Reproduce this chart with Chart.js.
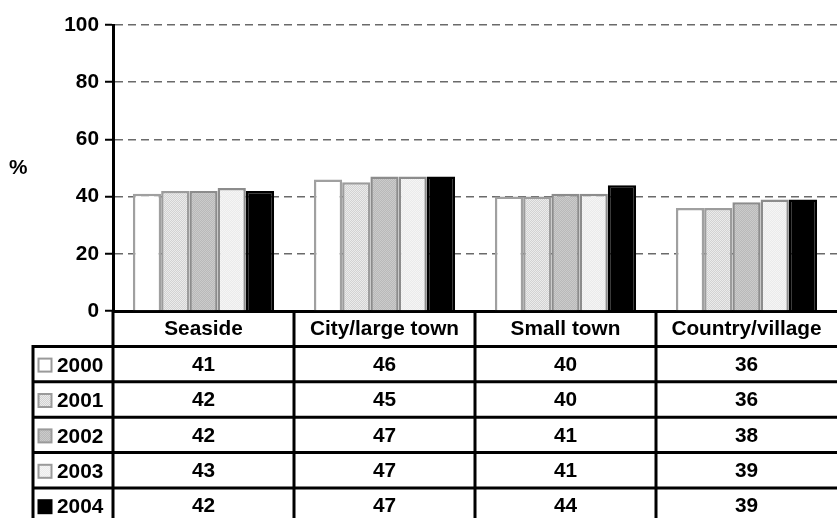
<!DOCTYPE html>
<html>
<head>
<meta charset="utf-8">
<script src="https://cdn.jsdelivr.net/npm/chart.js@4.4.1/dist/chart.umd.min.js"></script>
<style>
  html, body { margin: 0; padding: 0; background: #fff; }
  #wrap { width: 837px; height: 518px; }
</style>
</head>
<body>
<div id="wrap"><canvas id="chart" width="837" height="518"></canvas></div>
<script>
// places and yearly shares (%)
const places = ["Seaside", "City/large town", "Small town", "Country/village"];
const years = ["2000", "2001", "2002", "2003", "2004"];
const y2000 = [41, 46, 40, 36];
const y2001 = [42, 45, 40, 36];
const y2002 = [42, 47, 41, 38];
const y2003 = [43, 47, 41, 39];
const y2004 = [42, 47, 44, 39];
const yTicks = [0, 20, 40, 60, 80, 100];

const FONT = "'Liberation Sans', Arial, sans-serif";
const FONT_SIZE = 20.8;

// fine dither fill like the old office print patterns
function dither(a, b) {
  const c = document.createElement("canvas");
  c.width = 2; c.height = 2;
  const g = c.getContext("2d");
  g.fillStyle = a; g.fillRect(0, 0, 2, 2);
  g.fillStyle = b; g.fillRect(0, 0, 1, 1); g.fillRect(1, 1, 1, 1);
  return g.createPattern(c, "repeat");
}

const fills = ["#ffffff", dither("#d2d2d2", "#ebebeb"), dither("#b9b9b9", "#cbcbcb"), dither("#ebebeb", "#f5f5f5"), "#000000"];
const borders = ["#a0a0a0", "#9c9c9c", "#8c8c8c", "#8c8c8c", "#000000"];
const series = [y2000, y2001, y2002, y2003, y2004];

// data table under the plot, columns follow the category scale
const tablePlugin = {
  id: "dataTable",
  afterDraw(chart) {
    const ctx = chart.ctx;
    const area = chart.chartArea;
    const xs = chart.scales.x;
    const colW = area.width / places.length;
    const top = area.bottom;
    const rowH = 35.4;
    const labelLeft = 33;
    const bottom = chart.height;

    ctx.save();
    ctx.strokeStyle = "#000";
    ctx.lineWidth = 3;
    ctx.beginPath();
    // header bottom and row separators
    ctx.moveTo(area.left, top + rowH); ctx.lineTo(area.right, top + rowH);
    for (let r = 1; r <= years.length; r++) {
      const y = top + rowH * (r + 1);
      if (y < bottom) { ctx.moveTo(labelLeft, y); ctx.lineTo(area.right, y); }
    }
    ctx.moveTo(labelLeft - 1.5, top + rowH); ctx.lineTo(area.left, top + rowH);
    // verticals
    ctx.moveTo(labelLeft, top + rowH); ctx.lineTo(labelLeft, bottom);
    for (let i = 0; i < places.length; i++) {
      const x = area.left + i * colW;
      ctx.moveTo(x, top); ctx.lineTo(x, bottom);
    }
    ctx.stroke();

    ctx.fillStyle = "#000";
    ctx.font = "bold " + FONT_SIZE + "px " + FONT;
    ctx.textAlign = "center";
    ctx.textBaseline = "middle";
    places.forEach((p, i) => {
      ctx.fillText(p, xs.getPixelForValue(i), top + rowH / 2 + 1);
    });

    years.forEach((yr, r) => {
      const cy = top + rowH * (r + 1) + rowH / 2 + 1;
      // legend key
      ctx.fillStyle = fills[r];
      ctx.fillRect(38.5, cy - 6.5, 13, 13);
      ctx.strokeStyle = r === 4 ? "#000" : "#9a9a9a";
      ctx.lineWidth = 2;
      ctx.strokeRect(38.5, cy - 6.5, 13, 13);
      ctx.fillStyle = "#000";
      ctx.textAlign = "left";
      ctx.fillText(yr, 57, cy + 1);
      ctx.textAlign = "center";
      series[r].forEach((v, i) => {
        ctx.fillText(String(v), xs.getPixelForValue(i), cy);
      });
    });

    // unit label
    ctx.textAlign = "left";
    ctx.fillText("%", 9, 168);
    ctx.restore();
  }
};

new Chart(document.getElementById("chart"), {
  type: "bar",
  data: {
    labels: places,
    datasets: years.map((yr, r) => ({
      label: yr,
      data: series[r],
      backgroundColor: fills[r],
      borderColor: borders[r],
      borderWidth: 2.5,
      borderSkipped: "bottom",
      categoryPercentage: 0.78,
      barPercentage: 1
    }))
  },
  options: {
    responsive: false,
    animation: false,
    layout: { padding: { top: 25, right: 0, bottom: 207, left: 0 } },
    plugins: {
      legend: { display: false },
      tooltip: { enabled: false }
    },
    scales: {
      x: {
        ticks: { display: false },
        grid: { display: false, drawTicks: false },
        border: { display: true, color: "#000", width: 3 },
        afterFit(scale) { scale.height = 0; }
      },
      y: {
        min: 0,
        max: 100,
        afterBuildTicks(scale) { scale.ticks = yTicks.map(v => ({ value: v })); },
        ticks: {
          color: "#000",
          padding: 6,
          font: { family: FONT, size: FONT_SIZE, weight: "bold" }
        },
        grid: {
          color: "#6a6a6a",
          lineWidth: 1.5,
          tickLength: 8,
          tickColor: "#000",
          tickWidth: 2,
          tickBorderDash: []
        },
        border: { display: true, color: "#000", width: 3, dash: [8, 5] },
        afterFit(scale) { scale.width = 113; }
      }
    }
  },
  plugins: [tablePlugin]
});
</script>
</body>
</html>
